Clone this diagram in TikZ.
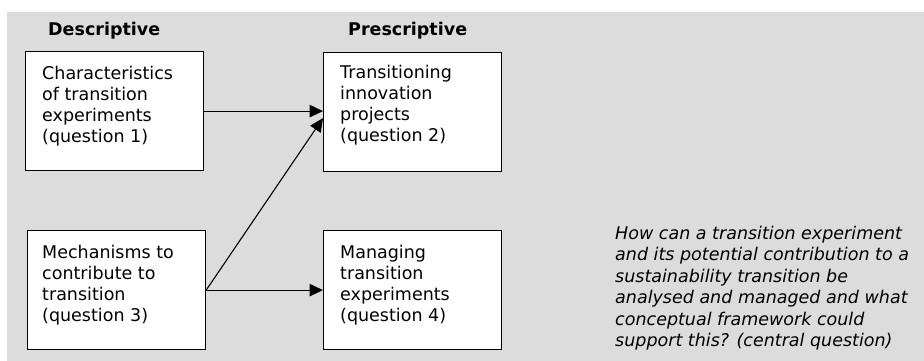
\documentclass[tikz,border=0pt]{standalone}
\usepackage{fontspec}
\setmainfont{DejaVu Sans}
\usetikzlibrary{arrows.meta,calc}
\definecolor{panel}{RGB}{220,220,220}
\begin{document}
\begin{tikzpicture}[x=1pt,y=-1pt,
  box/.style={draw=black,fill=white,line width=1.2pt,minimum width=178pt,minimum height=119pt,inner sep=0pt,anchor=north west},
  boxtext/.style={anchor=north west,inner sep=0pt,align=left,font=\fontsize{17.5}{21}\selectfont},
  head/.style={anchor=base west,inner sep=0pt,font=\fontsize{17.5}{21}\selectfont\bfseries},
  note/.style={anchor=north west,inner sep=0pt,align=left,font=\fontsize{17.5}{21.4}\selectfont\itshape},
  link/.style={line width=1.1pt,-{Triangle[length=13.5pt,width=12.5pt]}}]
\useasboundingbox (0,0) rectangle (924,361);
\fill[panel] (7,12) rectangle (924,361);

% column headings
\node[head] (hdesc) at (48,36) {Descriptive};
\node[head] (hpres) at (348,36) {Prescriptive};

% question boxes
\node[box] (b1) at (25,51) {};
\node[box] (b2) at (323,52) {};
\node[box] (b3) at (27,230) {};
\node[box] (b4) at (323,230) {};

\node[boxtext] (t1) at (42,66) {Characteristics\\of transition\\experiments\\(question 1)};
\node[boxtext] (t2) at (340,65) {Transitioning\\innovation\\projects\\(question 2)};
\node[boxtext] (t3) at (42,245) {Mechanisms to\\contribute to\\transition\\(question 3)};
\node[boxtext] (t4) at (340,245) {Managing\\transition\\experiments\\(question 4)};

% central question
\node[note] (cq) at (615,226) {How can a transition experiment\\and its potential contribution to a\\sustainability transition be\\analysed and managed and what\\conceptual framework could\\support this? (central question)};

% connectors
\draw[link] (b1.east) -- (b1.east -| b2.west);
\draw[link] (b3.east) -- ($(b2.west)+(0,6)$);
\draw[link] (b3.east) -- (b4.west);
\end{tikzpicture}
\end{document}
